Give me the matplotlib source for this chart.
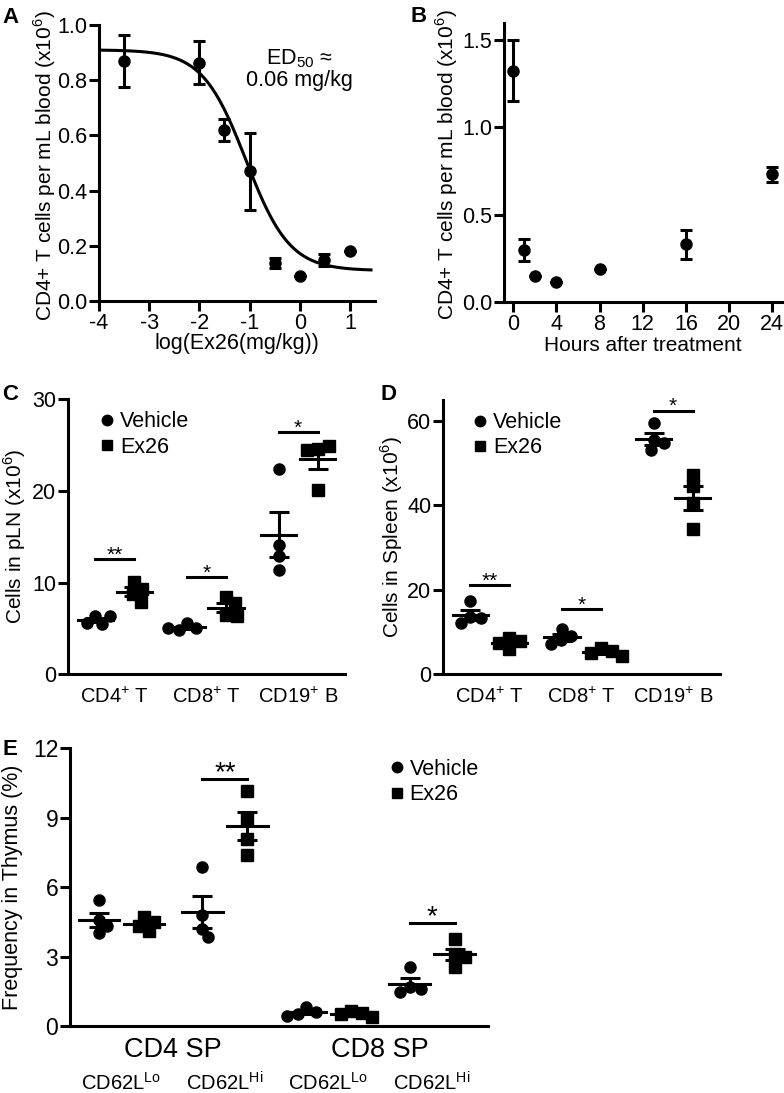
import numpy as np
import matplotlib
matplotlib.use('Agg')
import matplotlib.pyplot as plt
from matplotlib.lines import Line2D
from matplotlib.ticker import FormatStrFormatter

plt.rcParams['font.family'] = ['Liberation Sans', 'DejaVu Sans']
plt.rcParams['mathtext.fontset'] = 'custom'
plt.rcParams['mathtext.rm'] = 'Liberation Sans'
plt.rcParams['axes.unicode_minus'] = False

# ---- data ----
# A: dose response, log(dose) vs CD4+ T cells per mL blood (x10^6)
dose_log = [-3.5, -2.0, -1.5, -1.0, -0.5, 0.0, 0.48, 1.0]
dose_cells = [0.87, 0.863, 0.62, 0.47, 0.137, 0.09, 0.148, 0.182]
dose_sem = [0.093, 0.078, 0.04, 0.14, 0.018, 0.0, 0.022, 0.0]
fit_top, fit_bottom, fit_logec50, fit_hill = 0.91, 0.11, -1.07, 1.0

# B: time course
hours = [0, 1, 2, 4, 8, 16, 24]
time_cells = [1.324, 0.298, 0.149, 0.116, 0.187, 0.33, 0.731]
time_sem = [0.176, 0.062, 0.0, 0.0, 0.0, 0.081, 0.043]

# C: cells in pLN (x10^6)
cell_types = [r'CD4$^{\mathregular{+}}$ T', r'CD8$^{\mathregular{+}}$ T', r'CD19$^{\mathregular{+}}$ B']
pln_vehicle = [[6.4, 5.5, 5.6, 6.3], [5.6, 5.0, 4.8, 5.0], [22.4, 14.1, 12.9, 11.4]]
pln_ex26 = [[10.1, 9.3, 8.7, 7.9], [8.4, 7.8, 6.5, 6.4], [24.6, 24.9, 24.4, 20.1]]
pln_sig_y = [12.55, 10.6, 26.4]
pln_sig = ['**', '*', '*']

# D: cells in spleen (x10^6)
spleen_vehicle = [[17.2, 13.6, 13.2, 12.0], [10.6, 9.0, 8.0, 7.1], [59.4, 55.5, 54.7, 53.1]]
spleen_ex26 = [[8.5, 7.9, 7.4, 6.0], [6.1, 5.4, 5.0, 4.3], [47.2, 44.6, 40.5, 34.3]]
spleen_sig_y = [21.0, 15.4, 62.4]
spleen_sig = ['**', '*', '*']

# E: frequency in thymus (%)
thymus_subsets = [r'CD62L$^{\mathregular{Lo}}$', r'CD62L$^{\mathregular{Hi}}$',
                  r'CD62L$^{\mathregular{Lo}}$', r'CD62L$^{\mathregular{Hi}}$']
thymus_populations = ['CD4 SP', 'CD8 SP']
thymus_vehicle = [[5.45, 4.6, 4.3, 4.0], [6.87, 4.8, 4.21, 3.83],
                  [0.8, 0.6, 0.5, 0.45], [2.55, 1.7, 1.6, 1.47]]
thymus_ex26 = [[4.7, 4.5, 4.3, 4.1], [10.15, 8.95, 8.1, 7.4],
               [0.65, 0.55, 0.5, 0.4], [3.76, 3.11, 2.97, 2.54]]
thymus_sig_y = [None, 10.69, None, 4.47]
thymus_sig = [None, '**', None, '*']

LW = 2.2
W, H = 784, 1093

fig = plt.figure(figsize=(W / 100, H / 100), dpi=100)


def px_axes(left, top, right, bottom):
    # axes from pixel box of the reference
    return fig.add_axes([left / W, 1 - bottom / H, (right - left) / W, (bottom - top) / H])


def style(ax, labelsize=15.5):
    for s in ['top', 'right']:
        ax.spines[s].set_visible(False)
    for s in ['left', 'bottom']:
        ax.spines[s].set_linewidth(LW)
    ax.tick_params(width=LW, length=7, labelsize=labelsize, pad=1.5)


def swarm(ax, center, values, diam=10.5):
    pts = ax.transData.transform(np.column_stack([np.full(len(values), center), values]))
    placed = []
    steps = [0]
    for k in range(1, 40):
        steps += [k, -k]
    for cx, cy in pts:
        for off in steps:
            x = cx + off
            if all((x - px) ** 2 + (cy - py) ** 2 >= diam ** 2 for px, py in placed):
                break
        placed.append((x, cy))
    arr = ax.transData.inverted().transform(np.array(placed))
    return arr[:, 0]


def dot_group(ax, center, values, marker):
    xs = swarm(ax, center, values)
    ax.plot(xs, values, marker, color='black', ms=8, linestyle='none', zorder=3)
    m = np.mean(values)
    sem = np.std(values, ddof=1) / np.sqrt(len(values))
    ax.plot([center - 0.45, center + 0.45], [m, m], color='black', lw=LW, zorder=4)
    ax.errorbar([center], [m], yerr=[sem], fmt='none', ecolor='black',
                elinewidth=LW, capsize=7.5, capthick=LW, zorder=4)


def sig_bar(ax, x0, x1, y, text, fs):
    ax.plot([x0, x1], [y, y], color='black', lw=LW)
    ax.annotate(text, xy=((x0 + x1) / 2, y), xytext=(0, -1), textcoords='offset points',
                ha='center', va='baseline', fontsize=fs)


def legend(ax, x, y):
    handles = [Line2D([], [], marker='o', color='black', ls='none', ms=7.5),
               Line2D([], [], marker='s', color='black', ls='none', ms=7)]
    ax.legend(handles, ['Vehicle', 'Ex26'], loc='upper left', bbox_to_anchor=(x, y),
              frameon=False, fontsize=15.5, handlelength=0.8, handletextpad=0.2,
              labelspacing=0.2, borderpad=0, borderaxespad=0)


# ---- A ----
axA = px_axes(99, 25, 375, 301)
style(axA)
curve_x = np.linspace(-4, 1.42, 300)
curve_y = fit_bottom + (fit_top - fit_bottom) / (1 + 10 ** ((curve_x - fit_logec50) * fit_hill))
axA.plot(curve_x, curve_y, color='black', lw=LW)
axA.errorbar(dose_log, dose_cells, yerr=dose_sem, fmt='o', color='black', ms=8,
             elinewidth=LW, capsize=4.3, capthick=LW)
axA.set_xlim(-4, 1.5)
axA.set_ylim(0, 1.0)
axA.set_xticks(range(-4, 2))
axA.set_yticks(np.arange(0, 1.01, 0.2))
axA.yaxis.set_major_formatter(FormatStrFormatter('%.1f'))
axA.set_xlabel('log(Ex26(mg/kg))', fontsize=15.5, va='center')
axA.xaxis.set_label_coords(0.5, -0.155)
axA.set_ylabel(r'CD4+ T cells per mL blood (x10$^{\mathregular{6}}$)', fontsize=15, va='center')
axA.yaxis.set_label_coords(-0.195, 0.49)
axA.text(0.0, 0.84, 'ED$_{\\mathregular{50}}$ ≈\n0.06 mg/kg', ha='center', va='center',
         fontsize=15.5, multialignment='center', linespacing=1.05)

# ---- B ----
axB = px_axes(504, 22.5, 782, 302)
style(axB)
axB.errorbar(hours, time_cells, yerr=time_sem, fmt='o', color='black', ms=8,
             elinewidth=LW, capsize=4.3, capthick=LW)
axB.set_xlim(-0.85, 24.9)
axB.set_ylim(0, 1.6)
axB.set_xticks(range(0, 25, 4))
axB.set_yticks([0, 0.5, 1.0, 1.5])
axB.yaxis.set_major_formatter(FormatStrFormatter('%.1f'))
axB.set_xlabel('Hours after treatment', fontsize=15, va='center')
axB.xaxis.set_label_coords(0.5, -0.155)
axB.set_ylabel(r'CD4+ T cells per mL blood (x10$^{\mathregular{6}}$)', fontsize=15, va='center')
axB.yaxis.set_label_coords(-0.207, 0.49)


def group_panel(ax, vehicle, ex26, sig_y, sig, step, star_fs):
    for g in range(len(vehicle)):
        xv, xe = g * step, g * step + 1
        dot_group(ax, xv, vehicle[g], 'o')
        dot_group(ax, xe, ex26[g], 's')
        if sig[g]:
            sig_bar(ax, xv, xe, sig_y[g], sig[g], star_fs)
    return [g * step + 0.5 for g in range(len(vehicle))]


# ---- C ----
axC = px_axes(68.3, 399, 345, 674.3)
style(axC)
axC.set_xlim(-0.69, 6.4)
axC.set_ylim(0, 30)
axC.set_yticks([0, 10, 20, 30])
centers = group_panel(axC, pln_vehicle, pln_ex26, pln_sig_y, pln_sig, 2.35, 15)
axC.set_xticks(centers)
axC.set_xticklabels(cell_types, fontsize=14.5)
axC.tick_params(axis='x', length=0, pad=9)
axC.set_ylabel(r'Cells in pLN (x10$^{\mathregular{6}}$)', fontsize=15, va='center')
axC.yaxis.set_label_coords(-0.193, 0.5)
legend(axC, 0.109, 0.955)

# ---- D ----
axD = px_axes(443.3, 399.7, 720, 674)
style(axD)
axD.set_xlim(-0.69, 6.4)
axD.set_ylim(0, 65)
axD.set_yticks([0, 20, 40, 60])
centers = group_panel(axD, spleen_vehicle, spleen_ex26, spleen_sig_y, spleen_sig, 2.35, 15)
axD.set_xticks(centers)
axD.set_xticklabels(cell_types, fontsize=14.5)
axD.tick_params(axis='x', length=0, pad=9)
axD.set_ylabel(r'Cells in Spleen (x10$^{\mathregular{6}}$)', fontsize=15, va='center')
axD.yaxis.set_label_coords(-0.185, 0.5)
legend(axD, 0.103, 0.955)

# ---- E ----
axE = px_axes(70, 748.3, 488.3, 1026)
style(axE, labelsize=16.5)
axE.set_xlim(-0.64, 8.65)
axE.set_ylim(0, 12)
axE.set_yticks([0, 3, 6, 9, 12])
centers = group_panel(axE, thymus_vehicle, thymus_ex26, thymus_sig_y, thymus_sig, 2.3, 20)
axE.set_xticks([])
for c, lab in zip(centers, thymus_subsets):
    axE.annotate(lab, xy=(c, 0), xycoords=('data', 'axes fraction'), xytext=(0, -41),
                 textcoords='offset points', ha='center', va='center', fontsize=14.5)
for k, lab in enumerate(thymus_populations):
    mid = (centers[2 * k] + centers[2 * k + 1]) / 2
    axE.annotate(lab, xy=(mid, 0), xycoords=('data', 'axes fraction'), xytext=(0, -17.5),
                 textcoords='offset points', ha='center', va='center', fontsize=19.5)
axE.set_ylabel('Frequency in Thymus (%)', fontsize=15.5, va='center')
axE.yaxis.set_label_coords(-0.138, 0.5)
legend(axE, 0.76, 0.962)

# panel letters
for letter, x, y in [('A', 2, 23), ('B', 410, 22), ('C', 2, 400), ('D', 381, 400), ('E', 2, 755)]:
    fig.text(x / W, 1 - y / H, letter, fontsize=16, fontweight='bold', va='baseline')

fig.savefig('out.png', dpi=100)
